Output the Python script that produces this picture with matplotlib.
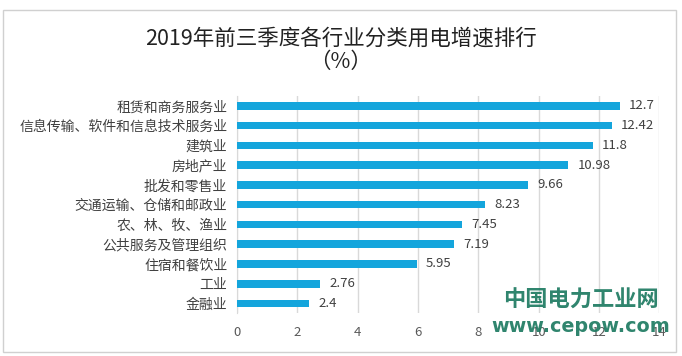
import matplotlib
matplotlib.use("Agg")
import matplotlib.pyplot as plt
from matplotlib.patches import Rectangle

plt.rcParams['font.family'] = ['Noto Sans CJK SC', 'DejaVu Sans']

categories = ["租赁和商务服务业", "信息传输、软件和信息技术服务业", "建筑业", "房地产业",
              "批发和零售业", "交通运输、仓储和邮政业", "农、林、牧、渔业",
              "公共服务及管理组织", "住宿和餐饮业", "工业", "金融业"]
values = [12.7, 12.42, 11.8, 10.98, 9.66, 8.23, 7.45, 7.19, 5.95, 2.76, 2.4]
value_labels = ["12.7", "12.42", "11.8", "10.98", "9.66", "8.23", "7.45", "7.19",
                "5.95", "2.76", "2.4"]
xticks = [0, 2, 4, 6, 8, 10, 12, 14]

BAR = "#14A5DC"
GRID = "#D9D9D9"
TXT = "#404040"

W, H = 682, 356
fig = plt.figure(figsize=(W / 100, H / 100), dpi=100)
ax = fig.add_axes([237 / W, 1 - 313.4 / H, 422.4 / W, 217.4 / H])

ypos = list(range(len(categories)))[::-1]
ax.barh(ypos, values, height=0.38, color=BAR, zorder=3)
for y, v, lab in zip(ypos, values, value_labels):
    ax.text(v + 0.3, y, lab, va="center", ha="left", fontsize=9.5, color=TXT)

ax.set_xlim(0, 14)
ax.set_ylim(-0.5, len(categories) - 0.5)
ax.set_xticks(xticks)
ax.set_xticklabels([str(t) for t in xticks], fontsize=9.5, color="#595959")
ax.set_yticks(ypos)
ax.set_yticklabels(categories, fontsize=10, color=TXT)
ax.tick_params(axis="both", length=0)
ax.tick_params(axis="y", pad=7)
ax.tick_params(axis="x", pad=9)
ax.grid(axis="x", color=GRID, lw=1, zorder=0)
for s in ["top", "right", "bottom"]:
    ax.spines[s].set_visible(False)
ax.spines["left"].set_color(GRID)

fig.text(341 / W, 1 - 39 / H, "2019年前三季度各行业分类用电增速排行",
         ha="center", va="center", fontsize=15.5, color="#222222")
fig.text(341 / W, 1 - 62 / H, "（%）", ha="center", va="center",
         fontsize=15.5, color="#222222")

# outer frame
fig.patches.append(Rectangle((3 / W, 4 / H), 673 / W, 342 / H, transform=fig.transFigure,
                             fill=False, edgecolor="#D0D0D0", lw=1))

# watermark
fig.text(581 / W, 1 - 300 / H, "中国电力工业网", ha="center", va="center",
         fontsize=16, fontweight="bold", color="#1E7B62", alpha=0.92)
fig.text(581 / W, 1 - 327 / H, "www.cepow.com", ha="center", va="center",
         fontsize=13.8, fontweight="bold", color="#1E7B62", alpha=0.92,
         family="DejaVu Sans")

fig.savefig("out.png", dpi=100)
